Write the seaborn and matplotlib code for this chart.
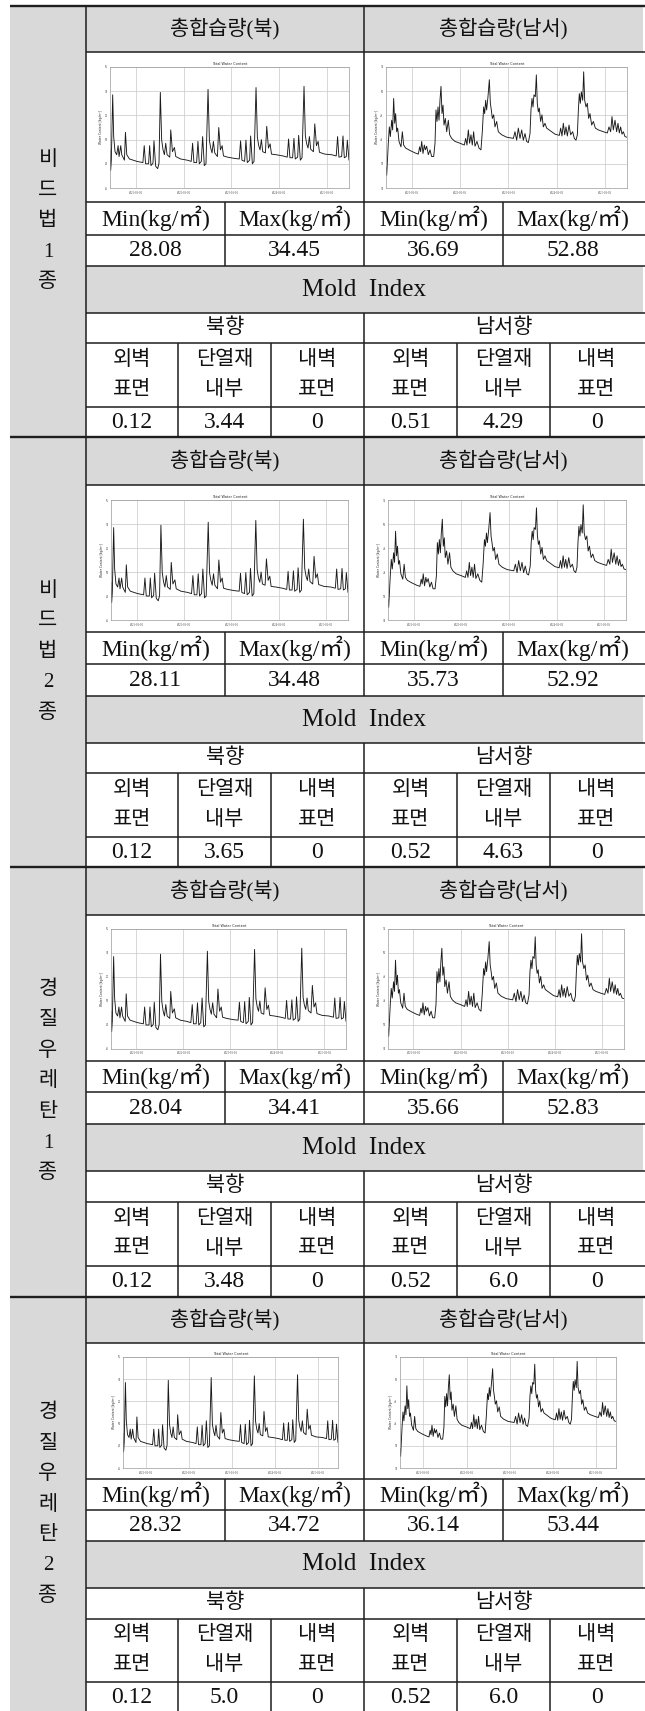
import matplotlib
matplotlib.use("Agg")
import matplotlib.pyplot as plt
import seaborn as sns
from matplotlib.patches import Rectangle

# ---- table contents ----
block_names = ["비드법1종", "비드법2종", "경질우레탄1종", "경질우레탄2종"]
col_titles = ["총합습량(북)", "총합습량(남서)"]
minmax_labels = ["Min(kg/㎡)", "Max(kg/㎡)", "Min(kg/㎡)", "Max(kg/㎡)"]
north_min = [28.08, 28.11, 28.04, 28.32]
north_max = [34.45, 34.48, 34.41, 34.72]
sw_min = [36.69, 35.73, 35.66, 36.14]
sw_max = [52.88, 52.92, 52.83, 53.44]
orient_labels = ["북향", "남서향"]
layer_labels = [("외벽", "표면"), ("단열재", "내부"), ("내벽", "표면")]
mold_north = [["0.12", "3.44", "0"], ["0.12", "3.65", "0"],
              ["0.12", "3.48", "0"], ["0.12", "5.0", "0"]]
mold_sw = [["0.51", "4.29", "0"], ["0.52", "4.63", "0"],
           ["0.52", "6.0", "0"], ["0.52", "6.0", "0"]]

# ---- total water content curves (years, kg/m2) ----
north_t = [0.000, 0.014, 0.028, 0.056, 0.077, 0.105, 0.140, 0.169, 0.190, 0.225,
           0.246, 0.302, 0.323, 0.351, 0.407, 0.562, 0.688, 0.716, 0.744, 0.808,
           0.829, 0.857, 0.899, 0.920, 0.955, 0.997, 1.025, 1.053, 1.081, 1.110,
           1.138, 1.166, 1.194, 1.250, 1.271, 1.306, 1.348, 1.376, 1.475, 1.615,
           1.699, 1.728, 1.756, 1.812, 1.840, 1.868, 1.910, 1.938, 1.973, 2.008,
           2.051, 2.079, 2.107, 2.135, 2.163, 2.191, 2.247, 2.275, 2.310, 2.346,
           2.374, 2.458, 2.598, 2.704, 2.732, 2.760, 2.816, 2.844, 2.872, 2.921,
           2.942, 2.978, 3.013, 3.055, 3.083, 3.111, 3.139, 3.167, 3.195, 3.251,
           3.279, 3.315, 3.350, 3.378, 3.476, 3.617, 3.708, 3.736, 3.764, 3.820,
           3.848, 3.876, 3.926, 3.947, 3.982, 4.017, 4.059, 4.087, 4.115, 4.143,
           4.171, 4.199, 4.256, 4.284, 4.319, 4.354, 4.382, 4.494, 4.635, 4.733,
           4.761, 4.789, 4.846, 4.874, 4.902, 4.944, 4.965, 5.000]
north_v = [29.15, 27.45, 28.30, 33.70, 30.25, 29.00, 28.75, 29.50, 28.60, 29.50,
           28.75, 28.30, 30.60, 28.75, 28.40, 28.20, 28.10, 29.50, 28.00, 28.00,
           29.50, 27.85, 28.05, 29.90, 27.80, 27.60, 28.05, 33.90, 29.95, 29.15,
           28.75, 29.70, 28.75, 28.55, 30.80, 29.00, 29.35, 28.60, 28.40, 28.30,
           28.20, 29.70, 28.10, 28.10, 29.85, 28.00, 28.20, 30.25, 27.85, 28.00,
           34.15, 29.95, 29.30, 28.90, 29.85, 28.90, 28.60, 31.00, 29.15, 29.50,
           28.65, 28.55, 28.45, 28.40, 29.90, 28.30, 28.20, 29.95, 28.10, 28.30,
           30.30, 28.00, 28.20, 34.30, 30.20, 29.50, 29.15, 30.00, 29.00, 28.90,
           31.10, 29.30, 29.65, 28.80, 28.75, 28.65, 28.55, 30.05, 28.50, 28.50,
           30.10, 28.40, 28.55, 30.35, 28.30, 28.50, 34.40, 30.30, 29.65, 29.30,
           30.25, 29.20, 29.00, 31.30, 29.50, 29.85, 28.95, 28.80, 28.75, 28.65,
           30.25, 28.55, 28.60, 30.30, 28.50, 28.60, 29.95, 28.30]

sw_t = [0.000, 0.014, 0.048, 0.069, 0.090, 0.118, 0.138, 0.159, 0.180, 0.200,
        0.221, 0.242, 0.270, 0.311, 0.339, 0.366, 0.408, 0.498, 0.602, 0.671,
        0.698, 0.719, 0.740, 0.768, 0.795, 0.816, 0.844, 0.878, 0.913, 0.947,
        0.989, 1.017, 1.037, 1.058, 1.079, 1.100, 1.120, 1.141, 1.162, 1.183,
        1.203, 1.231, 1.259, 1.293, 1.321, 1.362, 1.431, 1.535, 1.625, 1.653,
        1.680, 1.708, 1.735, 1.763, 1.790, 1.818, 1.846, 1.887, 1.929, 1.970,
        1.998, 2.026, 2.047, 2.068, 2.088, 2.116, 2.144, 2.165, 2.185, 2.206,
        2.234, 2.261, 2.296, 2.330, 2.399, 2.503, 2.642, 2.676, 2.711, 2.745,
        2.780, 2.815, 2.849, 2.884, 2.918, 2.953, 2.988, 3.008, 3.029, 3.050,
        3.070, 3.098, 3.119, 3.139, 3.160, 3.181, 3.208, 3.236, 3.264, 3.298,
        3.333, 3.402, 3.506, 3.596, 3.624, 3.651, 3.679, 3.707, 3.734, 3.762,
        3.797, 3.831, 3.873, 3.907, 3.942, 3.970, 3.991, 4.011, 4.032, 4.053,
        4.081, 4.101, 4.122, 4.150, 4.177, 4.205, 4.232, 4.267, 4.302, 4.343,
        4.405, 4.509, 4.592, 4.626, 4.661, 4.689, 4.716, 4.751, 4.785, 4.813,
        4.841, 4.868, 4.896, 4.924, 4.959, 4.993]
sw_v = [37.5, 36.1, 41.4, 44.1, 42.5, 45.2, 43.6, 48.8, 44.7, 46.3,
        43.3, 43.9, 41.7, 40.8, 43.3, 41.1, 40.6, 40.2, 39.8, 39.6,
        40.8, 40.0, 41.7, 39.7, 41.1, 40.3, 40.9, 39.5, 40.3, 39.2,
        39.2, 41.4, 46.9, 45.0, 47.4, 45.2, 48.5, 50.8, 46.3, 47.7,
        44.4, 45.5, 43.3, 45.2, 42.8, 42.2, 41.7, 41.4, 41.1, 42.2,
        41.1, 43.6, 41.4, 42.8, 41.1, 43.3, 40.9, 41.7, 40.6, 40.3,
        43.3, 47.4, 46.3, 48.5, 46.9, 49.1, 51.9, 48.0, 46.9, 45.5,
        46.1, 44.1, 45.0, 43.3, 42.8, 42.4, 42.2, 43.3, 41.9, 43.9,
        42.2, 43.6, 41.9, 43.0, 41.7, 41.5, 43.0, 46.9, 48.8, 47.4,
        49.4, 49.1, 52.7, 48.0, 46.6, 47.2, 45.0, 46.1, 44.1, 44.7,
        43.9, 43.5, 42.9, 42.7, 43.9, 42.6, 44.7, 42.8, 44.1, 42.6,
        44.4, 42.8, 43.3, 42.2, 41.9, 42.8, 46.9, 49.6, 48.0, 49.9,
        48.5, 53.2, 48.5, 47.4, 48.0, 45.5, 46.3, 44.4, 45.0, 43.9,
        43.6, 43.3, 43.1, 44.1, 43.3, 45.8, 43.6, 45.2, 43.3, 44.7,
        43.1, 44.1, 42.9, 43.3, 42.5, 42.4]

grid_years = [0.54, 1.54, 2.54, 3.54, 4.54]
grid_dates = ["2021-01-01", "2022-01-01", "2023-01-01", "2024-01-01", "2025-01-01"]

# ---- page geometry (pixels, top-left origin) ----
W, H = 645, 1711
X0, X1, XM, XR = 10, 86, 364, 643
MM_SPLIT = [225, 503]
LAYER_SPLIT = [178, 271, 457, 550]
rows = [
    [6, 52, 202, 235, 266, 313, 343, 407, 437],
    [437, 485, 632, 664, 696, 743, 773, 837, 867],
    [867, 915, 1061, 1092, 1124, 1171, 1202, 1266, 1297],
    [1297, 1343, 1479, 1510, 1541, 1588, 1619, 1682, 1713],
]
charts = [
    [(110, 349), (386, 627), (67, 188)],
    [(111, 348), (388, 626), (500, 620)],
    [(111, 346), (388, 624), (929, 1049)],
    [(123, 338), (400, 616), (1357, 1468)],
]
GRAY = "#d9d9d9"
LINE = "#1e1e1e"

sns.set_style("white")
plt.rcParams["font.family"] = ["Liberation Serif", "Noto Sans CJK KR"]
FAM = ["Liberation Serif", "Noto Sans CJK KR"]

fig = plt.figure(figsize=(W / 100, H / 100), dpi=100)
tab = fig.add_axes([0, 0, 1, 1])
tab.set_xlim(0, W)
tab.set_ylim(H, 0)
tab.axis("off")


def hline(x0, x1, y, lw=1.1):
    tab.plot([x0, x1], [y, y], color=LINE, lw=lw, solid_capstyle="butt")


def vline(x, y0, y1, lw=1.1):
    tab.plot([x, x], [y0, y1], color=LINE, lw=lw, solid_capstyle="butt")


def txt(x, y, s, size):
    tab.text(x, y, s, ha="center", va="center", fontsize=size, family=FAM, color="#111111")


def mini_chart(xs, ys, t, v, ylim, yticks):
    ax = fig.add_axes([xs[0] / W, 1 - ys[1] / H, (xs[1] - xs[0]) / W, (ys[1] - ys[0]) / H])
    sns.lineplot(x=t, y=v, ax=ax, color="#1a1a1a", lw=0.65)
    ax.set_xlim(0, 5)
    ax.set_ylim(*ylim)
    ax.set_xticks(grid_years)
    ax.set_xticklabels(grid_dates, fontsize=2.2, color="#444444")
    ax.set_yticks(yticks)
    ax.set_yticklabels([str(y) for y in yticks], fontsize=2.2, color="#444444")
    ax.grid(True, color="#c8c8c8", lw=0.5)
    ax.tick_params(length=0.8, width=0.3, pad=1)
    for s in ax.spines.values():
        s.set_color("#9a9a9a")
        s.set_linewidth(0.5)
    ax.set_title("Total Water Content", fontsize=2.5, pad=1.5, family="DejaVu Sans")
    ax.set_ylabel("Water Content [kg/m²]", fontsize=2.2, labelpad=1, family="DejaVu Sans")
    ax.set_xlabel("")


for b, r in enumerate(rows):
    # shaded cells
    tab.add_patch(Rectangle((X0, r[0]), X1 - X0, r[8] - r[0], fc=GRAY, ec="none"))
    tab.add_patch(Rectangle((X1, r[0]), XR - X1, r[1] - r[0], fc=GRAY, ec="none"))
    tab.add_patch(Rectangle((X1, r[4]), XR - X1, r[5] - r[4], fc=GRAY, ec="none"))

    # grid lines
    hline(X0, W, r[0], lw=1.7)
    for yy in r[1:8]:
        hline(X1, W, yy)
    vline(X1, r[0], r[8])
    vline(XM, r[0], r[4])
    vline(XM, r[5], r[8])
    for xx in MM_SPLIT:
        vline(xx, r[2], r[4])
    for xx in LAYER_SPLIT:
        vline(xx, r[6], r[8])

    # vertical block name
    name = block_names[b]
    cy = (r[0] + r[8]) / 2
    for i, ch in enumerate(name):
        txt((X0 + X1) / 2, cy + (i - (len(name) - 1) / 2) * 30.5, ch, 15)

    # headers
    txt((X1 + XM) / 2, (r[0] + r[1]) / 2, col_titles[0], 15)
    txt((XM + XR) / 2, (r[0] + r[1]) / 2, col_titles[1], 15)

    # min / max rows
    mm_edges = [X1, MM_SPLIT[0], XM, MM_SPLIT[1], XR]
    mm_vals = [north_min[b], north_max[b], sw_min[b], sw_max[b]]
    for j in range(4):
        cx = (mm_edges[j] + mm_edges[j + 1]) / 2
        txt(cx, (r[2] + r[3]) / 2, minmax_labels[j], 17)
        txt(cx, (r[3] + r[4]) / 2, f"{mm_vals[j]:.2f}", 17)

    txt((X1 + XR) / 2, (r[4] + r[5]) / 2, "Mold  Index", 18)
    txt((X1 + XM) / 2, (r[5] + r[6]) / 2, orient_labels[0], 15)
    txt((XM + XR) / 2, (r[5] + r[6]) / 2, orient_labels[1], 15)

    ly_edges = [X1] + LAYER_SPLIT[:2] + [XM] + LAYER_SPLIT[2:] + [XR]
    ly_vals = mold_north[b] + mold_sw[b]
    for j in range(6):
        cx = (ly_edges[j] + ly_edges[j + 1]) / 2
        top, bot = layer_labels[j % 3]
        cyl = (r[6] + r[7]) / 2
        txt(cx, cyl - 15, top, 15)
        txt(cx, cyl + 15, bot, 15)
        txt(cx, (r[7] + r[8]) / 2, ly_vals[j], 17)

    # embedded charts
    nx, sx, yy = charts[b]
    mini_chart(nx, yy, north_t, north_v, (26, 36), [26, 28, 30, 32, 34, 36])
    mini_chart(sx, yy, sw_t, sw_v, (34, 54), [34, 38, 42, 46, 50, 54])

fig.savefig("out.png", dpi=100)
